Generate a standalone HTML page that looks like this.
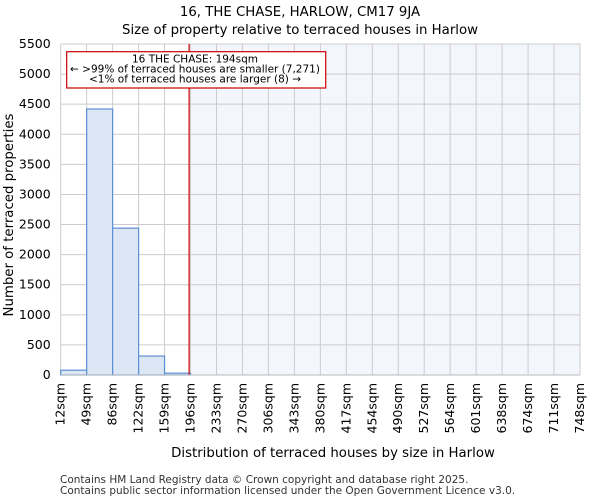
<!DOCTYPE html>
<html><head><meta charset="utf-8"><style>
body{margin:0;background:#fff;font-family:"DejaVu Sans","Liberation Sans",sans-serif;}
</style></head><body>
<svg id="chart" width="600" height="500" xmlns="http://www.w3.org/2000/svg" font-family="DejaVu Sans, Liberation Sans, sans-serif">
<text x="300" y="16" text-anchor="middle" font-size="13.3">16, THE CHASE, HARLOW, CM17 9JA</text>
<text x="300" y="34" text-anchor="middle" font-size="13.3">Size of property relative to terraced houses in Harlow</text>
<g id="plot"></g>
<text x="333" y="457" text-anchor="middle" font-size="13.3">Distribution of terraced houses by size in Harlow</text>
<text transform="translate(13,215) rotate(-90)" text-anchor="middle" font-size="13.3">Number of terraced properties</text>
<text x="60" y="483" font-size="10.5" fill="#333">Contains HM Land Registry data © Crown copyright and database right 2025.</text>
<text x="60" y="494" font-size="10.5" fill="#333">Contains public sector information licensed under the Open Government Licence v3.0.</text>
</svg>
<script>
const categories=["12sqm","49sqm","86sqm","122sqm","159sqm","196sqm","233sqm","270sqm","306sqm","343sqm","380sqm","417sqm","454sqm","490sqm","527sqm","564sqm","601sqm","638sqm","674sqm","711sqm","748sqm"];
const counts=[80,4420,2440,315,30,0,0,0,0,0,0,0,0,0,0,0,0,0,0,0];
const yTicks=[0,500,1000,1500,2000,2500,3000,3500,4000,4500,5000,5500];
const binStart=12, binWidth=36.8, markerValue=194;
const L=60.7,R=580,T=44,B=375,yMax=5500,nBins=20;
const xs=v=>L+(v-binStart)/(binWidth*nBins)*(R-L);
const xi=i=>L+i*(R-L)/nBins;
const ys=v=>B-v/yMax*(B-T);
const NS="http://www.w3.org/2000/svg";
const g=document.getElementById('plot');
function mk(t,a){const e=document.createElementNS(NS,t);for(const k in a)e.setAttribute(k,a[k]);g.appendChild(e);return e;}
const mx=xs(markerValue);
let e=mk('rect',{x:mx,y:T,width:R-mx,height:B-T,fill:'#f3f6fd'});


for(let i=0;i<=nBins;i++){e=mk('line',{x1:xi(i),x2:xi(i),y1:T,y2:B,stroke:'#ccc','stroke-width':1});

}
yTicks.forEach(t=>{e=mk('line',{x1:L,x2:R,y1:ys(t),y2:ys(t),stroke:'#ccc','stroke-width':1});


e=mk('text',{x:L-10,y:ys(t)+4,'text-anchor':'end','font-size':12.5});e.textContent=t;

});
counts.forEach((c,i)=>{if(c<=0)return;e=mk('rect',{x:xi(i),y:ys(c),width:xi(i+1)-xi(i),height:B-ys(c),fill:'#dce6f4',stroke:'#5b8fd6','stroke-width':1.2});

});
categories.forEach((c,i)=>{const x=xi(i);e=mk('text',{transform:`translate(${x+4},${B+8}) rotate(-90)`,'text-anchor':'end','font-size':12.5});e.textContent=c;

});
e=mk('line',{x1:mx,x2:mx,y1:T,y2:B,stroke:'#c00','stroke-width':1.2});


e=mk('line',{x1:L,x2:R,y1:B,y2:B,stroke:'#bbb','stroke-width':1});


e=mk('rect',{x:66.7,y:51.7,width:259,height:36.3,fill:'#fff',stroke:'#c00','stroke-width':1.2});


["16 THE CHASE: 194sqm","← >99% of terraced houses are smaller (7,271)","<1% of terraced houses are larger (8) →"].forEach((s,k)=>{e=mk('text',{x:195,y:62.5+k*10,'text-anchor':'middle','font-size':10.5});e.textContent=s;

});
</script>
</body></html>
